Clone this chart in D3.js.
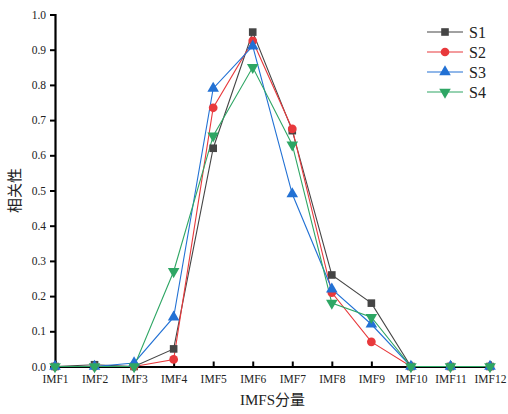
<!DOCTYPE html>
<html>
<head>
<meta charset="utf-8">
<script src="https://cdn.jsdelivr.net/npm/d3@7"></script>
<style>
body { margin: 0; background: #fff; }
text { font-family: "Liberation Serif", "Times New Roman", serif; }
</style>
</head>
<body>
<svg></svg>
<script>
var width = 508,
    height = 414;

var categories = ["IMF1", "IMF2", "IMF3", "IMF4", "IMF5", "IMF6", "IMF7", "IMF8", "IMF9", "IMF10", "IMF11", "IMF12"];
var s1 = [0, 0.005, 0, 0.05, 0.62, 0.95, 0.67, 0.26, 0.18, 0, 0, 0];
var s2 = [0, 0, 0, 0.02, 0.735, 0.925, 0.675, 0.21, 0.07, 0, 0, 0];
var s3 = [0, 0, 0.01, 0.14, 0.79, 0.91, 0.49, 0.22, 0.12, 0, 0, 0];
var s4 = [0, 0, 0, 0.27, 0.655, 0.85, 0.63, 0.18, 0.14, 0, 0, 0];
var yTicks = [0, 0.1, 0.2, 0.3, 0.4, 0.5, 0.6, 0.7, 0.8, 0.9, 1.0];

var series = [
    {name: "S1", values: s1, color: "#454545", symbol: d3.symbolSquare, rot: 0},
    {name: "S2", values: s2, color: "#e8393c", symbol: d3.symbolCircle, rot: 0},
    {name: "S3", values: s3, color: "#2271d4", symbol: d3.symbolTriangle, rot: 0},
    {name: "S4", values: s4, color: "#2ea664", symbol: d3.symbolTriangle, rot: 180}
];

var margin = {left: 55, right: 18, top: 14.5, bottom: 47.5};
var serif = "'Liberation Serif', 'Times New Roman', serif";

var svg = d3.select("svg")
    .attr("width", width)
    .attr("height", height);

var x = d3.scalePoint()
    .domain(categories)
    .range([margin.left, width - margin.right]);

var y = d3.scaleLinear()
    .domain([0, 1])
    .range([height - margin.bottom, margin.top]);

// axes
var yAxis = svg.append("g")
    .attr("transform", "translate(" + margin.left + ",0)")
    .call(d3.axisLeft(y).tickValues(yTicks).tickFormat(d3.format(".1f")).tickSize(5).tickPadding(4));

var xAxis = svg.append("g")
    .attr("transform", "translate(0," + y(0) + ")")
    .call(d3.axisBottom(x).tickSize(-5).tickPadding(10));

[xAxis, yAxis].forEach(function(a) {
    a.attr("font-family", serif);
    a.select(".domain").attr("stroke", "#000").attr("stroke-width", 2.2);
    a.selectAll(".tick line").attr("stroke", "#000").attr("stroke-width", 2);
    a.selectAll(".tick text")
        .attr("fill", "#222")
        .style("font-size", "11.5px")
        .style("font-family", serif);
});
xAxis.selectAll(".tick text").attr("dy", "0.55em");

// axis titles
svg.append("text")
    .attr("transform", "translate(20," + (y(0.5)) + ") rotate(-90)")
    .attr("text-anchor", "middle")
    .style("font-size", "15px")
    .style("font-family", "'Noto Sans CJK SC', serif")
    .attr("fill", "#222")
    .text("相关性");

svg.append("text")
    .attr("x", (margin.left + width - margin.right) / 2)
    .attr("y", 405)
    .attr("text-anchor", "middle")
    .style("font-size", "15px")
    .style("font-family", "'Liberation Serif', 'Noto Sans CJK SC', serif")
    .attr("fill", "#222")
    .text("IMFS分量");

// lines
var line = d3.line()
    .x(function(d, i) { return x(categories[i]); })
    .y(function(d) { return y(d); });

svg.selectAll(".series-line")
    .data(series)
    .enter()
    .append("path")
    .attr("d", function(d) { return line(d.values); })
    .attr("fill", "none")
    .attr("stroke", function(d) { return d.color; })
    .attr("stroke-width", 1.1);

// markers
series.forEach(function(s) {
    svg.selectAll(null)
        .data(s.values)
        .enter()
        .append("path")
        .attr("d", d3.symbol().type(s.symbol).size(s.symbol === d3.symbolCircle ? 60 : 58))
        .attr("transform", function(d, i) {
            return "translate(" + x(categories[i]) + "," + y(d) + ") rotate(" + s.rot + ")";
        })
        .attr("fill", s.color);
});

// legend
var legend = svg.append("g")
    .attr("transform", "translate(427,32)");

var item = legend.selectAll(".legend-item")
    .data(series)
    .enter()
    .append("g")
    .attr("transform", function(d, i) { return "translate(0," + i * 20 + ")"; });

item.append("line")
    .attr("x1", 0).attr("x2", 36)
    .attr("y1", 0).attr("y2", 0)
    .attr("stroke", function(d) { return d.color; })
    .attr("stroke-width", 1.2);

item.append("path")
    .attr("d", function(d) { return d3.symbol().type(d.symbol).size(58)(); })
    .attr("transform", function(d) { return "translate(18,0) rotate(" + d.rot + ")"; })
    .attr("fill", function(d) { return d.color; });

item.append("text")
    .attr("x", 42)
    .attr("y", 0)
    .attr("dy", "0.35em")
    .style("font-size", "16px")
    .style("font-family", serif)
    .attr("fill", "#222")
    .text(function(d) { return d.name; });
</script>
</body>
</html>
